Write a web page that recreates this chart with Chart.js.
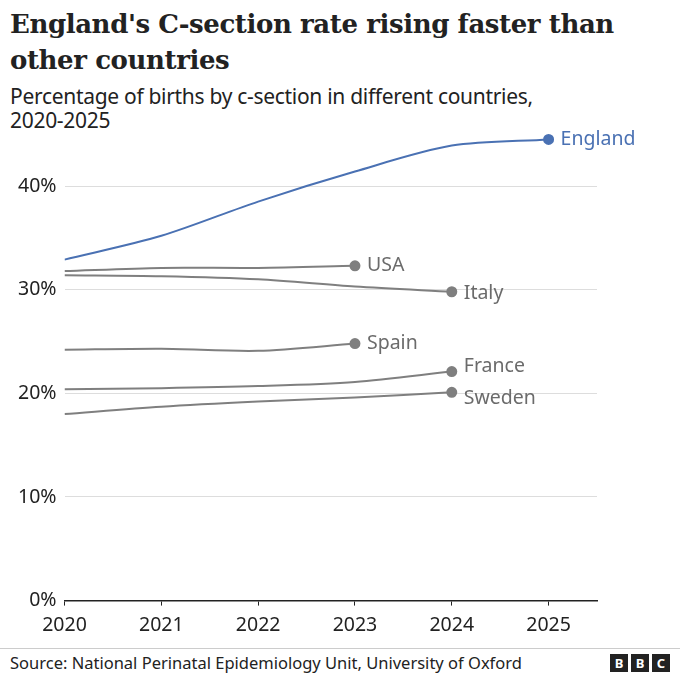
<!DOCTYPE html>
<html><head><meta charset="utf-8">
<script src="https://cdn.jsdelivr.net/npm/chart.js@4"></script>
<style>
body{margin:0;background:#fff;font-family:"Noto Sans",sans-serif;color:#222;}
#wrap{position:relative;width:680px;height:673px;overflow:hidden}
h1{position:absolute;left:10px;top:6px;margin:0;font-family:"DejaVu Serif",serif;font-size:26px;line-height:36px;font-weight:bold;color:#222;letter-spacing:-0.4px}
#sub{position:absolute;left:10px;top:84px;font-size:21px;line-height:24px;color:#222;letter-spacing:-0.3px}
#box{position:absolute;left:0;top:100px;width:680px;height:545px}
#foot{position:absolute;left:0;top:648px;width:680px;border-top:1px solid #ccc}
#src{position:absolute;left:10px;top:2px;font-size:16.5px;color:#222}
#bbc{position:absolute;right:10px;top:5px;display:flex;gap:3px}
#bbc span{background:#222;color:#fff;font-weight:bold;font-size:13px;width:18px;height:18px;text-align:center;line-height:18px}
</style></head><body>
<div id="wrap">
<h1>England's C-section rate rising faster than<br>other countries</h1>
<div id="sub">Percentage of births by c-section in different countries,<br>2020-2025</div>
<div id="box"><canvas id="c"></canvas></div>
<div id="foot"><div id="src">Source: National Perinatal Epidemiology Unit, University of Oxford</div>
<div id="bbc"><span>B</span><span>B</span><span>C</span></div></div>
</div>
<script>
var years = [2020, 2021, 2022, 2023, 2024, 2025];
var england = [32.9, 35.2, 38.5, 41.4, 43.9, 44.5];
var usa = [31.8, 32.1, 32.1, 32.3];
var italy = [31.4, 31.3, 31.0, 30.3, 29.8];
var spain = [24.2, 24.3, 24.1, 24.8];
var france = [20.4, 20.5, 20.7, 21.1, 22.1];
var sweden = [18.0, 18.7, 19.2, 19.6, 20.1];
var yTicks = [0, 10, 20, 30, 40];

function pts(arr){ return arr.map(function(v,i){ return {x: years[i], y: v}; }); }
function ds(name, arr, color, labelDy){
  return {label: name, data: pts(arr), borderColor: color, backgroundColor: color,
    borderWidth: 2, tension: 0.3, labelDy: labelDy || 0,
    pointRadius: arr.map(function(v,i){ return i == arr.length-1 ? 4.5 : 0; })};
}
var grey = '#7f7f7f';
var sets = [
  ds('England', england, '#4a71b3'),
  ds('USA', usa, grey),
  ds('Italy', italy, grey, 2),
  ds('Spain', spain, grey),
  ds('France', france, grey, -5),
  ds('Sweden', sweden, grey, 6)
];

var endLabels = {
  id: 'endLabels',
  afterDatasetsDraw: function(chart){
    var ctx = chart.ctx;
    ctx.save();
    ctx.font = '19.5px "Noto Sans"';
    ctx.textBaseline = 'middle';
    chart.data.datasets.forEach(function(d, i){
      var p = chart.getDatasetMeta(i).data[d.data.length-1];
      ctx.fillStyle = d.label == 'England' ? '#4a71b3' : '#6b6b6b';
      ctx.fillText(d.label, p.x + 12, p.y + d.labelDy);
    });
    ctx.restore();
  }
};

new Chart(document.getElementById('c'), {
  type: 'line',
  data: {datasets: sets},
  plugins: [endLabels],
  options: {
    responsive: true, maintainAspectRatio: false, animation: false,
    layout: {padding: {left: 10, right: 83, top: 0, bottom: 0}},
    plugins: {legend: {display: false}, tooltip: {enabled: false}},
    scales: {
      x: {type: 'linear', min: 2020, max: 2025.5,
        afterBuildTicks: function(s){ s.ticks = years.map(function(y){ return {value: y}; }); },
        grid: {drawOnChartArea: false, drawTicks: true, tickLength: 5, color: '#222'},
        border: {color: '#222', width: 1.5},
        ticks: {color: '#222', font: {size: 19.5, family: 'Noto Sans'}, padding: 8,
          callback: function(v){ return String(v); }}
      },
      y: {min: 0, max: 46.4,
        afterBuildTicks: function(s){ s.ticks = yTicks.map(function(v){ return {value: v}; }); },
        grid: {color: '#dddddd', drawTicks: false},
        border: {display: false},
        ticks: {color: '#222', font: {size: 19.5, family: 'Noto Sans'}, padding: 8,
          callback: function(v){ return v + '%'; }}
      }
    }
  }
});
</script>
</body></html>
